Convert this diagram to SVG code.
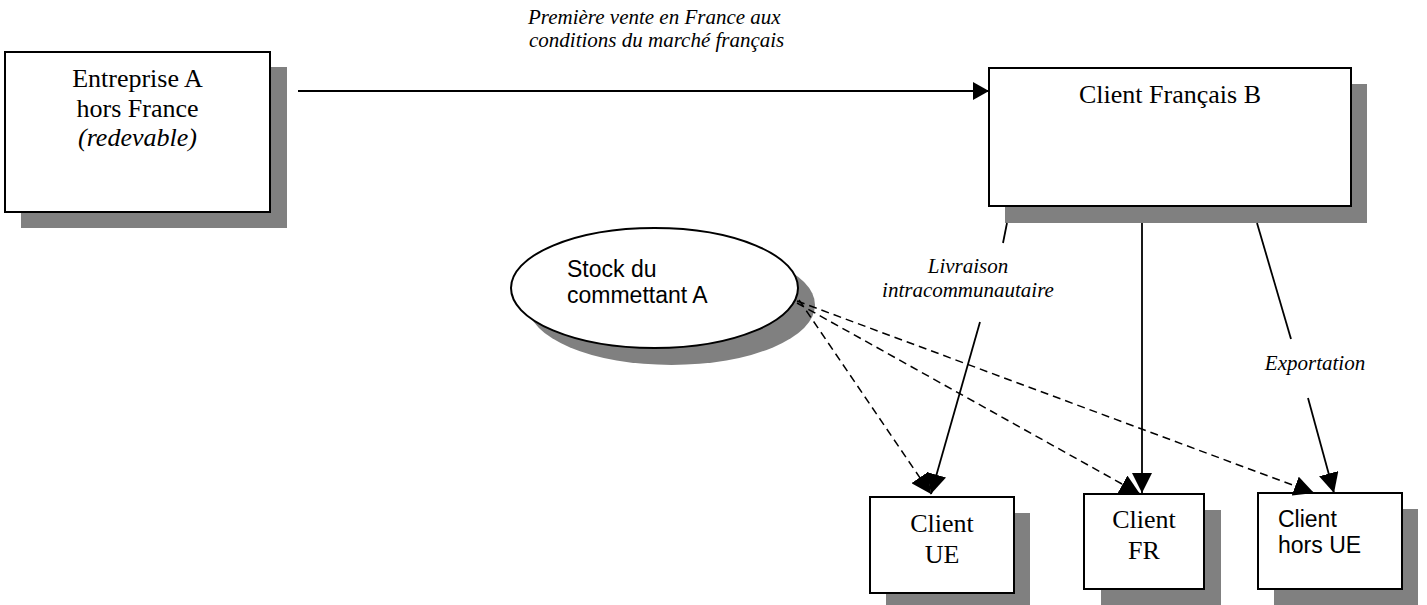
<svg xmlns="http://www.w3.org/2000/svg" width="1427" height="605" viewBox="0 0 1427 605">
  <defs>
    <style>
      .box { fill: #ffffff; stroke: #000000; stroke-width: 2; }
      .shadow { fill: #808080; stroke: none; }
      .serif { font-family: "Liberation Serif", "Times New Roman", serif; fill: #000; }
      .sans { font-family: "Liberation Sans", Arial, sans-serif; fill: #000; }
      .big { font-size: 26px; }
      .sansT { font-size: 23px; }
      .lbl { font-size: 21px; font-style: italic; }
      .conn { stroke: #000; stroke-width: 1.8; fill: none; }
      .dash { stroke-width: 1.5; stroke-dasharray: 8 5; }
    </style>
    <marker id="arrowTop" markerUnits="userSpaceOnUse" markerWidth="16" markerHeight="18" viewBox="0 0 16 18" refX="16" refY="9" orient="auto">
      <path d="M0,0 L16,9 L0,18 z" fill="#000"/>
    </marker>
    <marker id="arrow" markerUnits="userSpaceOnUse" markerWidth="20" markerHeight="20" viewBox="0 0 20 20" refX="20" refY="10" orient="auto">
      <path d="M0,0 L20,10 L0,20 z" fill="#000"/>
    </marker>
  </defs>

  <g id="entreprise-a">
    <rect class="shadow" x="21" y="67" width="266" height="161"/>
    <rect class="box" x="5" y="52" width="265" height="160"/>
    <text class="serif big" x="137.5" y="87" text-anchor="middle">Entreprise A</text>
    <text class="serif big" x="137.5" y="117" text-anchor="middle">hors France</text>
    <text class="serif big" x="137.5" y="146" text-anchor="middle" font-style="italic">(redevable)</text>
  </g>

  <g id="client-francais-b">
    <rect class="shadow" x="1005" y="84" width="362" height="139"/>
    <rect class="box" x="989" y="68" width="362" height="138"/>
    <text class="serif big" x="1170" y="103" text-anchor="middle">Client Français B</text>
  </g>

  <g id="stock-commettant">
    <ellipse class="shadow" cx="671.5" cy="305" rx="143.5" ry="60"/>
    <ellipse class="box" cx="654.5" cy="288" rx="143.5" ry="60" stroke-width="1.8"/>
    <text class="sans sansT" x="567" y="277">Stock du</text>
    <text class="sans sansT" x="567" y="303">commettant A</text>
  </g>

  <g id="client-ue">
    <rect class="shadow" x="886" y="513" width="144" height="96"/>
    <rect class="box" x="870" y="497" width="144" height="96"/>
    <text class="serif big" x="942" y="532" text-anchor="middle">Client</text>
    <text class="serif big" x="942" y="563" text-anchor="middle">UE</text>
  </g>

  <g id="client-fr">
    <rect class="shadow" x="1101" y="510" width="120" height="96"/>
    <rect class="box" x="1084" y="494" width="120" height="95"/>
    <text class="serif big" x="1144" y="528" text-anchor="middle">Client</text>
    <text class="serif big" x="1144" y="559" text-anchor="middle">FR</text>
  </g>

  <g id="client-hors-ue">
    <rect class="shadow" x="1274" y="509" width="144" height="96"/>
    <rect class="box" x="1258" y="493" width="144" height="96"/>
    <text class="sans sansT" x="1278" y="527">Client</text>
    <text class="sans sansT" x="1278" y="553">hors UE</text>
  </g>

  <g id="connectors">
    <line class="conn" x1="298" y1="91" x2="989" y2="91" marker-end="url(#arrowTop)"/>
    <line class="conn" x1="1007" y1="223" x2="1003" y2="243"/>
    <line class="conn" x1="980" y1="322" x2="931" y2="494" marker-end="url(#arrow)"/>
    <line class="conn" x1="1142" y1="223" x2="1142" y2="493" marker-end="url(#arrow)"/>
    <line class="conn" x1="1257" y1="223" x2="1291" y2="339"/>
    <line class="conn" x1="1308" y1="398" x2="1334" y2="493" marker-end="url(#arrow)"/>
    <line class="conn dash" x1="799" y1="300" x2="931" y2="494" marker-end="url(#arrow)"/>
    <line class="conn dash" x1="797" y1="303" x2="1140" y2="494" marker-end="url(#arrow)"/>
    <line class="conn dash" x1="797" y1="301" x2="1314" y2="493" marker-end="url(#arrow)"/>
  </g>

  <g id="labels">
    <text class="serif lbl" x="528" y="24">Première vente en France aux</text>
    <text class="serif lbl" x="529" y="47">conditions du marché français</text>
    <text class="serif lbl" x="968" y="273" text-anchor="middle">Livraison</text>
    <text class="serif lbl" x="968" y="297" text-anchor="middle">intracommunautaire</text>
    <text class="serif lbl" x="1315" y="370" text-anchor="middle">Exportation</text>
  </g>
</svg>
